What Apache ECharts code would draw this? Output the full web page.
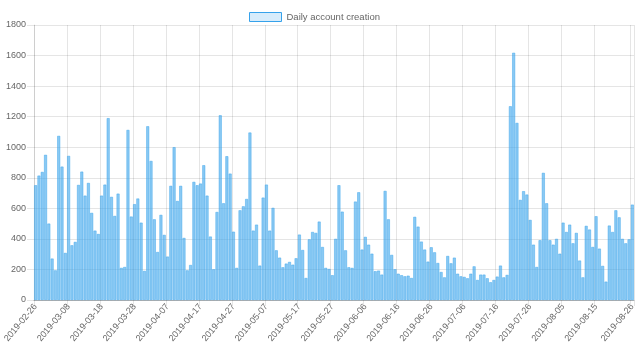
<!DOCTYPE html>
<html>
<head>
<meta charset="utf-8">
<script src="https://cdn.jsdelivr.net/npm/echarts@6/dist/echarts.min.js"></script>
<style>
html,body{margin:0;padding:0;background:#fff;}
#chart{width:640px;height:361px;}
</style>
</head>
<body>
<div id="chart"></div>
<script>
var seriesName = 'Daily account creation';
var startDate = '2019-02-26';
var dayCount = 182;
var accounts = [
751,814,838,950,500,271,194,1074,873,308,943,358,380,753,840,683,766,570,454,432,683,755,1190,675,550,696,210,216,1113,546,627,
664,506,190,1137,910,528,314,557,426,284,747,1000,648,747,406,194,229,773,751,762,882,683,415,201,576,1209,633,941,827,447,
210,587,613,661,1096,454,493,225,670,755,454,603,325,277,214,238,249,231,273,428,327,144,397,445,439,513,347,210,203,162,400,
751,578,325,214,210,644,705,330,413,362,303,188,192,166,714,528,295,201,172,162,155,159,144,544,480,382,330,251,345,312,
242,183,148,288,240,277,172,155,151,142,172,220,131,166,166,142,116,131,153,225,148,164,1268,1618,1159,655,712,690,524,362,
216,391,832,633,391,362,400,303,506,445,493,371,439,258,148,485,461,347,548,336,223,120,487,445,587,541,400,371,397,624
];
var yTicks = [0,200,400,600,800,1000,1200,1400,1600,1800];

var dates = [];
(function(){
  var p = startDate.split('-');
  var t0 = Date.UTC(+p[0], +p[1]-1, +p[2]);
  for (var i = 0; i < dayCount; i++) {
    var d = new Date(t0 + i*86400000);
    var m = d.getUTCMonth()+1, dd = d.getUTCDate();
    dates.push(d.getUTCFullYear() + '-' + (m<10?'0':'') + m + '-' + (dd<10?'0':'') + dd);
  }
})();

function shown(i){ return (i % 10 === 0 && i <= 170) || i === dayCount - 1; }

var chart = echarts.init(document.getElementById('chart'), null, {renderer:'canvas'});
var font = '"Liberation Sans", Arial, Helvetica, sans-serif';
chart.setOption({
  animation: false,
  textStyle: {fontFamily: font},
  legend: {
    top: 7,
    left: 244,
    itemWidth: 32,
    itemHeight: 9,
    itemGap: 10,
    itemTextGap: 5,
    textStyle: {color: '#666', fontSize: 9.5, fontFamily: font},
    data: [{name: seriesName, icon: 'rect', itemStyle: {color: 'rgba(54,162,235,0.2)', borderColor: 'rgba(54,162,235,1)', borderWidth: 1}}]
  },
  grid: {left: 34, right: 6, top: 25, bottom: 61, containLabel: false, outerBoundsMode: 'none'},
  xAxis: {
    type: 'category',
    data: dates,
    boundaryGap: true,
    axisLine: {show: true, lineStyle: {color: 'rgba(0,0,0,0.25)', width: 1}},
    axisTick: {show: true, interval: function(i){return shown(i);}, length: 6, lineStyle: {color: 'rgba(0,0,0,0.1)'}},
    splitLine: {show: true, interval: function(i){return shown(i);}, lineStyle: {color: 'rgba(0,0,0,0.1)', width: 1}},
    axisLabel: {
      interval: function(i){return shown(i);},
      rotate: 50,
      color: '#666',
      fontSize: 9,
      fontFamily: font,
      margin: 5,
      hideOverlap: false
    }
  },
  yAxis: {
    type: 'value',
    min: yTicks[0],
    max: yTicks[yTicks.length-1],
    interval: yTicks[1]-yTicks[0],
    axisLine: {show: true, lineStyle: {color: 'rgba(0,0,0,0.1)'}},
    axisTick: {show: true, length: 7, lineStyle: {color: 'rgba(0,0,0,0.1)'}},
    splitLine: {show: true, lineStyle: {color: 'rgba(0,0,0,0.1)', width: 1}},
    axisLabel: {color: '#666', fontSize: 9, fontFamily: font, margin: 8, formatter: function(v){return String(v);}}
  },
  series: [{
    name: seriesName,
    type: 'bar',
    data: accounts,
    barCategoryGap: '12%',
    itemStyle: {color: 'rgba(54,162,235,0.58)', borderColor: 'rgba(54,162,235,0.9)', borderWidth: 0.5}
  }]
});
</script>
</body>
</html>
